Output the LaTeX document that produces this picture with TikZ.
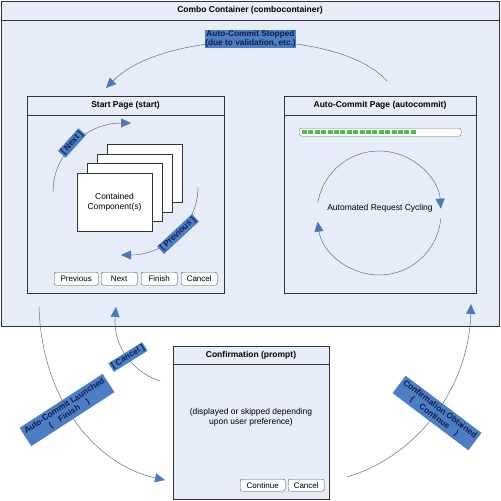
\documentclass[tikz,border=0pt]{standalone}
\usepackage{fontspec}
\setmainfont{Liberation Sans}
\usetikzlibrary{arrows.meta}
\definecolor{bgblue}{HTML}{E6EDF8}
\definecolor{linec}{HTML}{333333}
\definecolor{arcc}{HTML}{5A7296}
\definecolor{tipc}{HTML}{4A78C0}
\definecolor{lblfill}{HTML}{4C7EC6}
\definecolor{lbltext}{HTML}{0F1E45}
\definecolor{barg}{HTML}{4DC24A}
\tikzset{
 panel/.style={draw=linec, line width=0.9pt, fill=bgblue, anchor=north west, inner sep=0pt, outer sep=0pt},
 ttl/.style={font=\fontsize{8.5}{9.5}\selectfont\bfseries, text=black, inner sep=0pt},
 flow/.style={draw=arcc, line width=0.5pt, -{Triangle[length=10pt,width=9pt,color=tipc]}},
 lbl/.style={fill=lblfill, text=lbltext, font=\fontsize{8.3}{9}\selectfont\bfseries, inner sep=1.2pt, align=center},
 btn/.style={draw=linec!85, fill=white!92!bgblue, rounded corners=2pt, minimum height=13pt, inner sep=0pt, font=\fontsize{8}{8.5}\selectfont, anchor=north west},
 sheet/.style={draw=linec, line width=0.7pt, fill=white, inner sep=0pt, anchor=north west, minimum width=75pt, minimum height=58pt},
 body/.style={font=\fontsize{8.5}{10}\selectfont, align=center, inner sep=0pt},
}
\begin{document}
\begin{tikzpicture}[x=1pt,y=-1pt]
\useasboundingbox (0,0) rectangle (501,501);
\fill[white] (0,0) rectangle (501,501);
% outer container
\node[panel, minimum width=498pt, minimum height=325pt] (combo) at (1,1) {};
\draw[linec, line width=0.9pt] (1,20) -- (499,20);
\node[ttl] (combot) at (250,10.5) {Combo Container (combocontainer)};
% start page
\node[panel, line width=0.8pt, minimum width=197pt, minimum height=197pt] (start) at (27,96) {};
\draw[linec, line width=0.8pt] (27,115) -- (224,115);
\node[ttl] (startt) at (125.5,105.5) {Start Page (start)};
% auto commit page
\node[panel, line width=0.8pt, minimum width=192pt, minimum height=197pt] (auto) at (284,96) {};
\draw[linec, line width=0.8pt] (284,115) -- (476,115);
\node[ttl] (autot) at (380,105.5) {Auto-Commit Page (autocommit)};
% confirmation
\node[panel, line width=0.8pt, minimum width=156pt, minimum height=153pt] (conf) at (173,346) {};
\draw[linec, line width=0.8pt] (173,364) -- (329,364);
\node[ttl] (conft) at (251,355) {Confirmation (prompt)};
\node[body] (confb) at (251,417) {(displayed or skipped depending\\upon user preference)};
\node[btn, minimum width=45pt, minimum height=12pt] (bcont) at (240,479) {Continue};
\node[btn, minimum width=36pt, minimum height=12pt] (bccan) at (288,479) {Cancel};
% stack of components
\node[sheet] (s4) at (107,144) {};
\node[sheet] (s3) at (97,154) {};
\node[sheet] (s2) at (87,163) {};
\node[sheet] (s1) at (77,173) {};
\node[body] (s1t) at (114.5,202) {Contained\\Component(s)};
% buttons
\node[btn, minimum width=44pt] (bprev) at (54,272) {Previous};
\node[btn, minimum width=36pt] (bnext) at (101,272) {Next};
\node[btn, minimum width=36pt] (bfin) at (141,272) {Finish};
\node[btn, minimum width=36pt] (bcan) at (181,272) {Cancel};
% progress bar
\node[draw=linec!70, fill=white, rounded corners=2.5pt, minimum width=162pt, minimum height=8pt, inner sep=0pt, anchor=north west] (bar) at (299,128) {};
\foreach \i in {0,...,17} {\fill[barg] (302+\i*6.4,129.7) rectangle ++(5,4.6);}
% circle
\coordinate (cc) at (379,213);
\node[body] (cyc) at (380,208) {Automated Request Cycling};
\draw[flow] (cc) ++(171:62pt) arc[start angle=171, end angle=4, radius=62pt];
\draw[flow] (cc) ++(-5:62pt) arc[start angle=-5, end angle=-172, radius=62pt];
% next / previous arcs
\coordinate (n0) at (53,192); \coordinate (n1) at (131,123);
\draw[flow] (n0) .. controls (53,152) and (88,123) .. (n1);
\node[lbl, rotate=48] (lnext) at (72,143) {[ Next ]};
\coordinate (p0) at (198,187); \coordinate (p1) at (121,255);
\draw[flow] (p0) .. controls (198,226) and (164,255) .. (p1);
\node[lbl, rotate=43] (lprev) at (178,234) {[ Previous ]};
% auto-commit stopped
\coordinate (a0) at (387,81); \coordinate (a1) at (106,88);
\draw[flow] (a0) .. controls (340,28) and (165,28) .. (a1);
\node[lbl, inner sep=0.6pt] (lstop) at (250.5,39) {Auto-Commit Stopped\\(due to validation, etc.)};
% bottom arcs
\coordinate (f0) at (39,307); \coordinate (f1) at (165,480);
\draw[flow] (f0) .. controls (42,405) and (100,466) .. (f1);
\node[lbl, rotate=33, inner sep=2.5pt] (lfin) at (67,410) {Auto-Commit Launched\\(\quad Finish\quad )};
\coordinate (c0) at (160,381); \coordinate (c1) at (116,307);
\draw[flow] (c0) .. controls (128,370) and (113,342) .. (c1);
\node[lbl, rotate=32] (lcan) at (128,357) {[ Cancel ]};
\coordinate (o0) at (347,477); \coordinate (o1) at (471,304);
\draw[flow] (o0) .. controls (420,455) and (469,385) .. (o1);
\node[lbl, rotate=-37, inner sep=2.5pt] (lobt) at (437,413) {Confirmation Obtained\\(\quad Continue\quad )};
\end{tikzpicture}
\end{document}
